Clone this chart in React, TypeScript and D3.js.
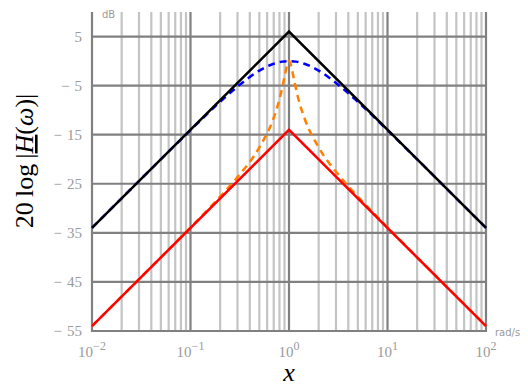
import React, { useRef, useEffect } from 'react';
import * as d3 from 'd3';

// frequency decades on the log axis
const decades = [-2, -1, 0, 1, 2];
const yTicks = [5, -5, -15, -25, -35, -45, -55];

// asymptotes (straight lines in Bode plot)
const blackW = [0.01, 1, 100];
const blackDb = [-34, 6, -34];
const redW = [0.01, 1, 100];
const redDb = [-54, -14, -54];

// exact responses
const blueW = [0.01, 0.02, 0.05, 0.1, 0.2, 0.3, 0.5, 0.7, 0.85, 1, 1.18, 1.43, 2, 3.33, 5, 10, 20, 50, 100];
const blueDb = [-33.98, -27.96, -20.02, -14.07, -8.3, -5.19, -1.94, -0.54, -0.11, 0, -0.11, -0.54, -1.94, -5.19, -8.3, -14.07, -20.02, -27.96, -33.98];
const orangeW = [0.01, 0.02, 0.05, 0.1, 0.2, 0.3, 0.5, 0.7, 0.8, 0.9, 0.95, 1, 1.053, 1.111, 1.25, 1.43, 2, 3.33, 5, 10, 20, 50, 100];
const orangeDb = [-53.98, -47.95, -39.98, -33.89, -27.61, -23.64, -17.58, -11.54, -7.83, -3.25, -1.02, 0, -1.02, -3.25, -7.83, -11.54, -17.58, -23.64, -27.61, -33.89, -39.98, -47.95, -53.98];

export default function App() {
  const svgRef = useRef<SVGSVGElement>(null);

  useEffect(() => {
    if (!svgRef.current) return;
    const width = 528;
    const height = 387;
    const svg = d3.select(svgRef.current);
    svg.selectAll('*').remove();

    const left = 92, right = 486, top = 12, bottom = 331;
    const x = d3.scaleLog().domain([0.01, 100]).range([left, right]);
    const y = d3.scaleLinear().domain([-55, 10]).range([bottom, top]);

    const major = '#808080';
    const minor = '#c4c4c4';
    const labelColor = '#9a9a9a';
    const serif = '"Liberation Serif", "DejaVu Serif", serif';

    // minor vertical grid
    decades.slice(0, -1).forEach((d) => {
      for (let k = 2; k <= 9; k++) {
        const v = k * Math.pow(10, d);
        svg.append('line')
          .attr('x1', x(v)).attr('x2', x(v))
          .attr('y1', top).attr('y2', bottom)
          .attr('stroke', minor).attr('stroke-width', 2.2);
      }
    });

    // horizontal grid
    yTicks.forEach((t) => {
      svg.append('line')
        .attr('x1', left).attr('x2', right)
        .attr('y1', y(t)).attr('y2', y(t))
        .attr('stroke', major).attr('stroke-width', 2.2);
      svg.append('text')
        .attr('x', 82)
        .attr('y', y(t) + 5)
        .attr('text-anchor', 'end')
        .attr('fill', labelColor)
        .attr('font-family', serif)
        .attr('font-size', '15px')
        .text(t < 0 ? `\u2212\u2004${-t}` : `${t}`);
    });

    // major vertical grid + x labels
    decades.forEach((d) => {
      const v = Math.pow(10, d);
      svg.append('line')
        .attr('x1', x(v)).attr('x2', x(v))
        .attr('y1', top).attr('y2', bottom + 1)
        .attr('stroke', major).attr('stroke-width', 2.2);
      const t = svg.append('text')
        .attr('x', x(v))
        .attr('y', 357)
        .attr('text-anchor', 'middle')
        .attr('fill', labelColor)
        .attr('font-family', serif)
        .attr('font-size', '15px');
      t.append('tspan').text('10');
      t.append('tspan')
        .attr('dy', -7)
        .attr('font-size', '12px')
        .text(d < 0 ? `\u2212${-d}` : `${d}`);
    });

    const line = d3.line<[number, number]>()
      .x((p) => x(p[0]))
      .y((p) => y(p[1]))
      .curve(d3.curveMonotoneX);
    const straight = d3.line<[number, number]>()
      .x((p) => x(p[0]))
      .y((p) => y(p[1]));

    const zip = (a: number[], b: number[]) => a.map((v, i) => [v, b[i]] as [number, number]);

    svg.append('path')
      .attr('d', line(zip(blueW, blueDb)))
      .attr('fill', 'none').attr('stroke', '#0000ff')
      .attr('stroke-width', 2.5).attr('stroke-dasharray', '7,5');
    svg.append('path')
      .attr('d', line(zip(orangeW, orangeDb)))
      .attr('fill', 'none').attr('stroke', '#ff8000')
      .attr('stroke-width', 2.5).attr('stroke-dasharray', '7,5');
    svg.append('path')
      .attr('d', straight(zip(blackW, blackDb)))
      .attr('fill', 'none').attr('stroke', '#000000')
      .attr('stroke-width', 2.5);
    svg.append('path')
      .attr('d', straight(zip(redW, redDb)))
      .attr('fill', 'none').attr('stroke', '#ff0000')
      .attr('stroke-width', 2.5);

    // unit labels
    svg.append('text')
      .attr('x', 102).attr('y', 18)
      .attr('fill', labelColor)
      .attr('font-family', '"DejaVu Sans", sans-serif')
      .attr('font-size', '10px')
      .text('dB');
    svg.append('text')
      .attr('x', 495).attr('y', 336)
      .attr('fill', labelColor)
      .attr('font-family', '"DejaVu Sans", sans-serif')
      .attr('font-size', '10px')
      .text('rad/s');

    // axis titles
    svg.append('text')
      .attr('x', 289).attr('y', 381)
      .attr('text-anchor', 'middle')
      .attr('font-family', serif)
      .attr('font-style', 'italic')
      .attr('font-size', '26px')
      .text('x');

    const yt = svg.append('text')
      .attr('transform', 'translate(33,161) rotate(-90)')
      .attr('text-anchor', 'middle')
      .attr('font-family', serif)
      .attr('font-size', '26px');
    yt.append('tspan').text('20\u2009log\u2009|');
    yt.append('tspan').attr('font-style', 'italic').attr('text-decoration', 'underline').text('H');
    yt.append('tspan').text('(');
    yt.append('tspan').attr('font-style', 'italic').text('ω');
    yt.append('tspan').text(')|');

    svg.attr('width', width).attr('height', height);
  }, []);

  return (
    <svg
      ref={svgRef}
      width={528}
      height={387}
      style={{ position: 'absolute', left: 0, top: 0, background: '#fff' }}
    />
  );
}
